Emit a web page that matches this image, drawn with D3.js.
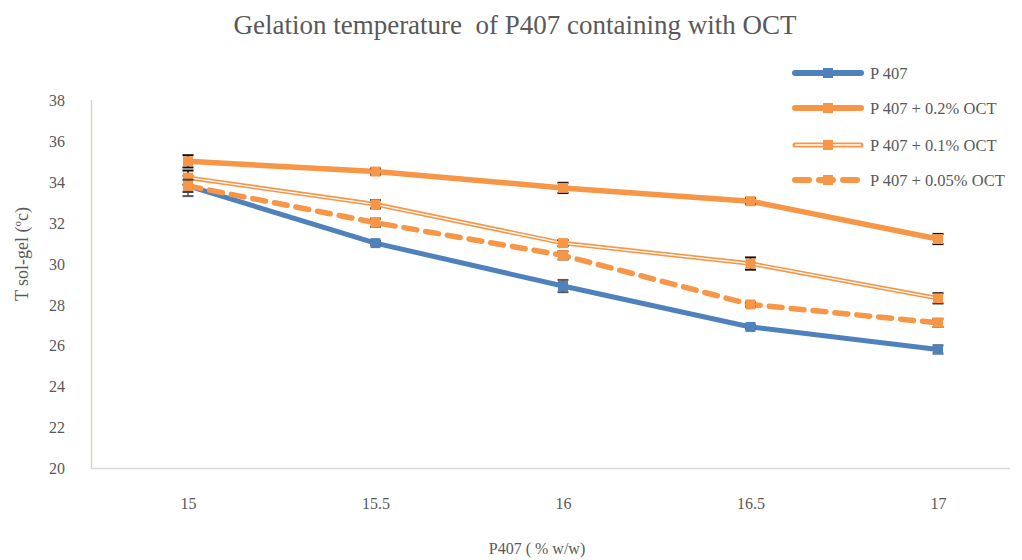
<!DOCTYPE html>
<html>
<head>
<meta charset="utf-8">
<script src="https://cdn.jsdelivr.net/npm/d3@7"></script>
<style>
  html, body { margin: 0; padding: 0; background: #fff; }
</style>
</head>
<body>
<svg id="chart" width="1022" height="560"></svg>
<script>
const categories = ["15", "15.5", "16", "16.5", "17"];
const yTicks = [20, 22, 24, 26, 28, 30, 32, 34, 36, 38];

const seriesNames = ["P 407", "P 407 + 0.2% OCT", "P 407 + 0.1% OCT", "P 407 + 0.05% OCT"];
const p407 = [33.8, 31.0, 28.9, 26.9, 25.8];
const p407_02 = [35.0, 34.5, 33.7, 33.05, 31.2];
const p407_01 = [34.2, 32.9, 31.0, 30.0, 28.3];
const p407_005 = [33.8, 32.0, 30.4, 28.0, 27.1];

const err407 = [0.5, 0.1, 0.3, 0.1, 0.2];
const err02 = [0.3, 0.15, 0.25, 0.15, 0.25];
const err01 = [0.35, 0.2, 0.15, 0.3, 0.25];
const err005 = [0.3, 0.2, 0.2, 0.1, 0.2];

const BLUE = "#4f81bd", ORANGE = "#f79646";
const styles = [
  { color: BLUE, width: 5, dash: null, double: false, cap: "#595959" },
  { color: ORANGE, width: 5.5, dash: null, double: false, cap: "#111" },
  { color: ORANGE, width: 4.5, dash: null, double: true, cap: "#111" },
  { color: ORANGE, width: 5.5, dash: "13,9", double: false, cap: "#444" }
];
const values = [p407, p407_02, p407_01, p407_005];
const errors = [err407, err02, err01, err005];

const svg = d3.select("#chart");

function pickFont(cands) {
  const t = svg.append("text").attr("font-size", 40).text("Gelation temperature 15.5");
  t.attr("font-family", "monospace");
  const base = t.node().getComputedTextLength();
  let chosen = null;
  for (const c of cands) {
    t.attr("font-family", "'" + c + "', monospace");
    if (Math.abs(t.node().getComputedTextLength() - base) > 0.5) { chosen = c; break; }
  }
  t.remove();
  return chosen ? "'" + chosen + "', serif" : "'Liberation Sans', sans-serif";
}
const FONT = pickFont(["Liberation Serif", "Times New Roman", "Tinos", "Nimbus Roman", "DejaVu Serif", "Noto Serif"]);
svg.style("font-family", FONT);

const x = d3.scalePoint().domain(categories).range([188, 938]);
const y = d3.scaleLinear().domain([20, 38]).range([468, 100]);
const textColor = "#595959";

// Title
svg.append("text").attr("x", 515).attr("y", 34).attr("text-anchor", "middle")
  .attr("font-size", 27).attr("fill", textColor).attr("xml:space", "preserve")
  .text("Gelation temperature  of P407 containing with OCT");

// Plot border lines
svg.append("line").attr("x1", 91.5).attr("x2", 91.5).attr("y1", y(38)).attr("y2", y(20) + 0.5)
  .attr("stroke", "#d9d5cc").attr("stroke-width", 1.5);
svg.append("line").attr("x1", 91).attr("x2", 1010).attr("y1", y(20) + 0.5).attr("y2", y(20) + 0.5)
  .attr("stroke", "#d9d9d9").attr("stroke-width", 1.5);

// Y axis
const yAxis = d3.axisLeft(y).tickValues(yTicks).tickSize(0).tickPadding(0);
const gy = svg.append("g").attr("transform", "translate(57,0)").call(yAxis);
gy.attr("font-family", null);
gy.select(".domain").remove();
gy.selectAll("text").attr("font-size", 16).attr("fill", textColor)
  .attr("text-anchor", "middle").attr("dy", "0.35em");

// X axis
const xAxis = d3.axisBottom(x).tickSize(0).tickPadding(0);
const gx = svg.append("g").attr("transform", "translate(0,498)").call(xAxis);
gx.attr("font-family", null);
gx.select(".domain").remove();
gx.selectAll("text").attr("font-size", 16).attr("fill", textColor).attr("dy", "0.71em");

// Axis titles
svg.append("text").attr("x", 537).attr("y", 554).attr("text-anchor", "middle")
  .attr("font-size", 16).attr("fill", textColor).text("P407 ( % w/w)");
const yt = svg.append("text").attr("transform", "translate(28,254) rotate(-90)")
  .attr("text-anchor", "middle").attr("font-size", 18).attr("fill", textColor);
yt.append("tspan").text("T sol-gel (");
yt.append("tspan").attr("font-size", 11).attr("dy", -7).text("o");
yt.append("tspan").attr("dy", 7).text("c)");

const line = d3.line().x((d, i) => x(categories[i])).y(d => y(d));

values.forEach((vals, si) => {
  const st = styles[si];
  const g = svg.append("g");
  const p = g.append("path").attr("d", line(vals)).attr("fill", "none")
    .attr("stroke", st.color).attr("stroke-width", st.width)
    .attr("stroke-linecap", "round").attr("stroke-linejoin", "round");
  if (st.dash) p.attr("stroke-dasharray", st.dash);
  if (st.double) {
    g.append("path").attr("d", line(vals)).attr("fill", "none")
      .attr("stroke", "#fff").attr("stroke-width", 1.3);
  }
  vals.forEach((v, i) => {
    const cx = x(categories[i]), e = errors[si][i];
    g.append("line").attr("x1", cx).attr("x2", cx).attr("y1", y(v + e)).attr("y2", y(v - e))
      .attr("stroke", st.cap).attr("stroke-width", 1.5);
    [v + e, v - e].forEach(b => {
      g.append("line").attr("x1", cx - 5.5).attr("x2", cx + 5.5).attr("y1", y(b)).attr("y2", y(b))
        .attr("stroke", st.cap).attr("stroke-width", 2);
    });
  });
  g.selectAll("rect.m").data(vals).enter().append("rect")
    .attr("x", (d, i) => x(categories[i]) - 5).attr("y", d => y(d) - 5)
    .attr("width", 10).attr("height", 10).attr("fill", st.color);
});

// Legend
const legY = [73, 108, 145, 180];
seriesNames.forEach((name, si) => {
  const st = styles[si];
  const ly = legY[si];
  const g = svg.append("g");
  const p = g.append("line").attr("x1", 795).attr("x2", 861).attr("y1", ly).attr("y2", ly)
    .attr("stroke", st.color).attr("stroke-width", si === 2 ? 5 : 6).attr("stroke-linecap", "round");
  if (st.dash) p.attr("stroke-dasharray", "14,10");
  if (st.double) g.append("line").attr("x1", 795).attr("x2", 861).attr("y1", ly).attr("y2", ly)
    .attr("stroke", "#fff").attr("stroke-width", 1.3);
  g.append("rect").attr("x", 823).attr("y", ly - 5).attr("width", 10).attr("height", 10).attr("fill", st.color);
  g.append("text").attr("x", 870).attr("y", ly).attr("dy", "0.35em").attr("font-size", 16.5)
    .attr("fill", textColor).text(name);
});
</script>
</body>
</html>
